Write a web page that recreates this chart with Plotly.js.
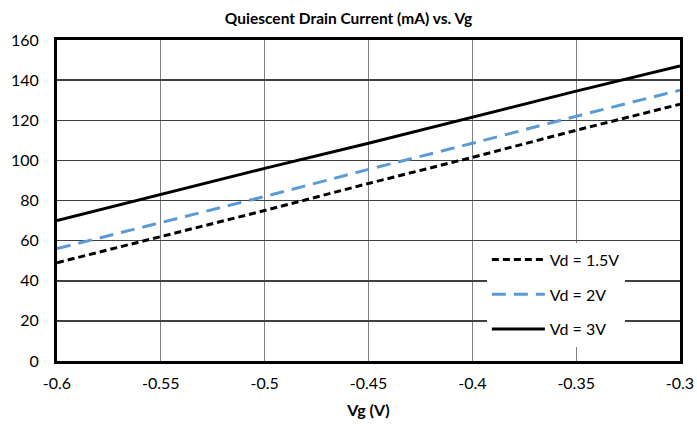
<!DOCTYPE html>
<html>
<head>
<meta charset="utf-8">
<script src="https://cdn.plot.ly/plotly-3.0.1.min.js"></script>
<style>html,body{margin:0;padding:0;background:#fff;}#chart{width:697px;height:424px;}</style>
</head>
<body>
<div id="chart"></div>
<script>
var vg = [-0.6, -0.55, -0.5, -0.45, -0.4, -0.35, -0.3];
var id_vd15 = [49, 62, 75, 88.5, 101.5, 115, 128];
var id_vd2 = [56, 69, 82, 95.5, 108.5, 122, 135];
var id_vd3 = [70, 83, 96, 108.5, 121.5, 134.5, 147];
var seriesNames = ['Vd = 1.5V', 'Vd = 2V', 'Vd = 3V'];
var xTickVals = [-0.6, -0.55, -0.5, -0.45, -0.4, -0.35, -0.3];
var xTickText = ['-0.6', '-0.55', '-0.5', '-0.45', '-0.4', '-0.35', '-0.3'];
var yTickVals = [0, 20, 40, 60, 80, 100, 120, 140, 160];

var font = 'Lato, "Open Sans", "Liberation Sans", sans-serif';

var traces = [
  {x: vg, y: id_vd15, name: seriesNames[0], legendgroup: 'a', mode: 'lines',
   line: {color: '#000000', width: 3, dash: '7px,4px'}},
  {x: vg, y: id_vd2, name: seriesNames[1], legendgroup: 'b', mode: 'lines',
   line: {color: '#5B9BD5', width: 3, dash: '14px,8px'}},
  {x: vg, y: id_vd3, name: seriesNames[2], legendgroup: 'c', mode: 'lines',
   line: {color: '#000000', width: 3}}
];

var layout = {
  width: 697, height: 424,
  margin: {l: 57, r: 17, t: 40, b: 63},
  paper_bgcolor: '#ffffff', plot_bgcolor: '#ffffff',
  font: {family: font, size: 16, color: '#000000'},
  title: {text: '<b>Quiescent Drain Current (mA) vs. Vg</b>', x: 0.5, xanchor: 'center', y: 0.957, yanchor: 'middle',
          font: {family: font, size: 15.5, color: '#000000'}},
  xaxis: {range: [-0.6, -0.3], tickvals: xTickVals, ticktext: xTickText,
          showgrid: true, gridcolor: '#808080', gridwidth: 1,
          showline: true, linecolor: '#000000', linewidth: 3, mirror: true,
          zeroline: false, ticks: '', ticklen: 0, ticklabelstandoff: 6,
          tickfont: {family: font, size: 16, color: '#000000'},
          title: {text: '<b>Vg (V)</b>', standoff: 14, font: {family: font, size: 16, color: '#000000'}}},
  yaxis: {range: [0, 160], tickvals: yTickVals,
          showgrid: true, gridcolor: '#404040', gridwidth: 1.5,
          showline: true, linecolor: '#000000', linewidth: 3, mirror: true,
          zeroline: false, ticks: '', ticklen: 0, ticklabelstandoff: 12,
          tickfont: {family: font, size: 16, color: '#000000'}},
  showlegend: true,
  legend: {x: 0.69, y: 0.369, xanchor: 'left', yanchor: 'top',
           bgcolor: '#ffffff', borderwidth: 0,
           font: {family: font, size: 16, color: '#000000'},
           itemwidth: 53, tracegroupgap: 11, traceorder: 'grouped'}
};

Plotly.newPlot('chart', traces, layout, {displayModeBar: false, staticPlot: true});
</script>
</body>
</html>
